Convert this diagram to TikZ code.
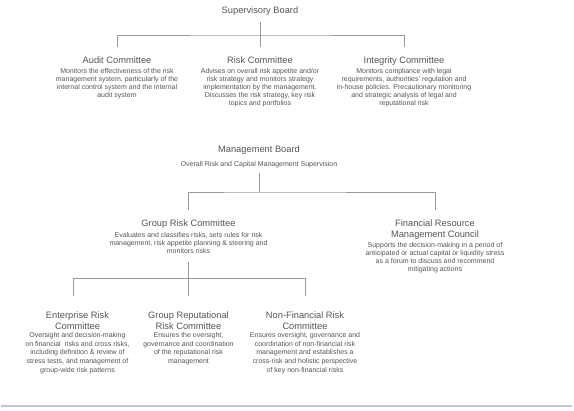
\documentclass[tikz,border=0pt]{standalone}
\usepackage{fontspec}
\setmainfont{Liberation Sans}
\definecolor{txt}{HTML}{555555}
\definecolor{ln}{HTML}{9A9A9A}
\definecolor{rulecol}{HTML}{C2C2E6}
\begin{document}
\begin{tikzpicture}[x=1pt,y=-1pt,
  ttl/.style={inner sep=0pt, text=txt, font=\fontsize{9.3}{11.3}\selectfont, text height=7pt, text depth=2pt, anchor=base},
  ttltwo/.style={inner sep=0pt, text=txt, font=\fontsize{9.3}{11.3}\selectfont, align=center, anchor=north},
  dsc/.style={inner sep=0pt, text=txt, font=\fontsize{7}{8}\selectfont, align=center, anchor=north},
  dscm/.style={dsc, font=\fontsize{7}{8.3}\selectfont},
  dscb/.style={dsc, font=\fontsize{7}{8.7}\selectfont},
  conn/.style={draw=ln, line width=0.6pt}]
\useasboundingbox (0,0) rectangle (574,411);

% Supervisory level
\node[ttl] (sup) at (260,13.5) {Supervisory Board};
\coordinate (b1) at (260,35);
\node[ttl] (audit) at (117,64) {Audit Committee};
\node[ttl] (risk) at (260,64) {Risk Committee};
\node[ttl] (integ) at (404,64) {Integrity Committee};
\node[dsc] (auditd) at (117,68.3) {Monitors the effectiveness of the risk\\management system, particularly of the\\internal control system and the internal\\audit system};
\node[dsc] (riskd) at (260,68.3) {Advises on overall risk appetite and/or\\risk strategy and monitors strategy\\implementation by the management.\\Discusses the risk strategy, key risk\\topics and portfolios};
\node[dsc] (integd) at (404,68.3) {Monitors compliance with legal\\requirements, authorities' regulation and\\in-house policies. Precautionary monitoring\\and strategic analysis of legal and\\reputational risk};
\draw[conn, shorten <=6.5pt] (sup) -- (b1);
\draw[conn, shorten <=10pt, shorten >=10pt] (audit) |- (b1) -| (integ);
\draw[conn, shorten <=10pt] (risk) -- (b1);

% Management level
\node[ttl] (mb) at (259,153) {Management Board};
\node[inner sep=0pt, text=txt, font=\fontsize{7}{8}\selectfont, anchor=base, text height=5pt, text depth=1.5pt] (mbd) at (259,167) {Overall Risk and Capital Management Supervision};
\coordinate (b2) at (259,192);
\node[ttl] (grc) at (188.5,226.5) {Group Risk Committee};
\node[ttltwo] (frmc) at (435,219.7) {Financial Resource\\Management Council};
\node[dscm] (grcd) at (188.5,231.8) {Evaluates and classifies risks, sets rules for risk\\management, risk appetite planning \& steering and\\monitors risks};
\node[dscm] (frmcd) at (435,241.8) {Supports the decision-making in a period of\\anticipated or actual capital or liquidity stress\\as a forum to discuss and recommend\\mitigating actions};
\draw[conn, shorten <=4.5pt] (mbd) -- (b2);
\draw[conn, shorten <=9.5pt, shorten >=9.7pt] (grc) |- (b2) -| (frmc);

% Committees below Group Risk Committee
\coordinate (b3) at (188.5,278);
\coordinate (b3l) at (73,278);
\coordinate (b3r) at (305,278);
\node[ttltwo] (ent) at (77.5,311.7) {Enterprise Risk\\Committee};
\node[ttltwo] (grr) at (188.5,311.7) {Group Reputational\\Risk Committee};
\node[ttltwo] (nfr) at (305,311.7) {Non-Financial Risk\\Committee};
\node[dscb] (entd) at (77.5,332.3) {Oversight and decision-making\\on financial\ \ risks and cross risks,\\including definition \& review of\\stress tests, and management of\\group-wide risk patterns};
\node[dscb] (grrd) at (188.5,332.3) {Ensures the oversight,\\governance and coordination\\of the reputational risk\\management};
\node[dscb] (nfrd) at (305,332.3) {Ensures oversight, governance and\\coordination of non-financial risk\\management and establishes a\\cross-risk and holistic perspective\\of key non-financial risks};
\draw[conn, shorten <=8.4pt] (grcd) -- (b3);
\draw[conn] (b3l) -- (b3r);
\draw[conn, shorten >=15.7pt] (b3l) -- (b3l |- ent.north);
\draw[conn, shorten >=15.7pt] (b3) -- (grr);
\draw[conn, shorten >=15.7pt] (b3r) -- (nfr);

% bottom rule
\draw[draw=rulecol, line width=2.5pt] (1,406) -- (572,406);
\end{tikzpicture}
\end{document}
